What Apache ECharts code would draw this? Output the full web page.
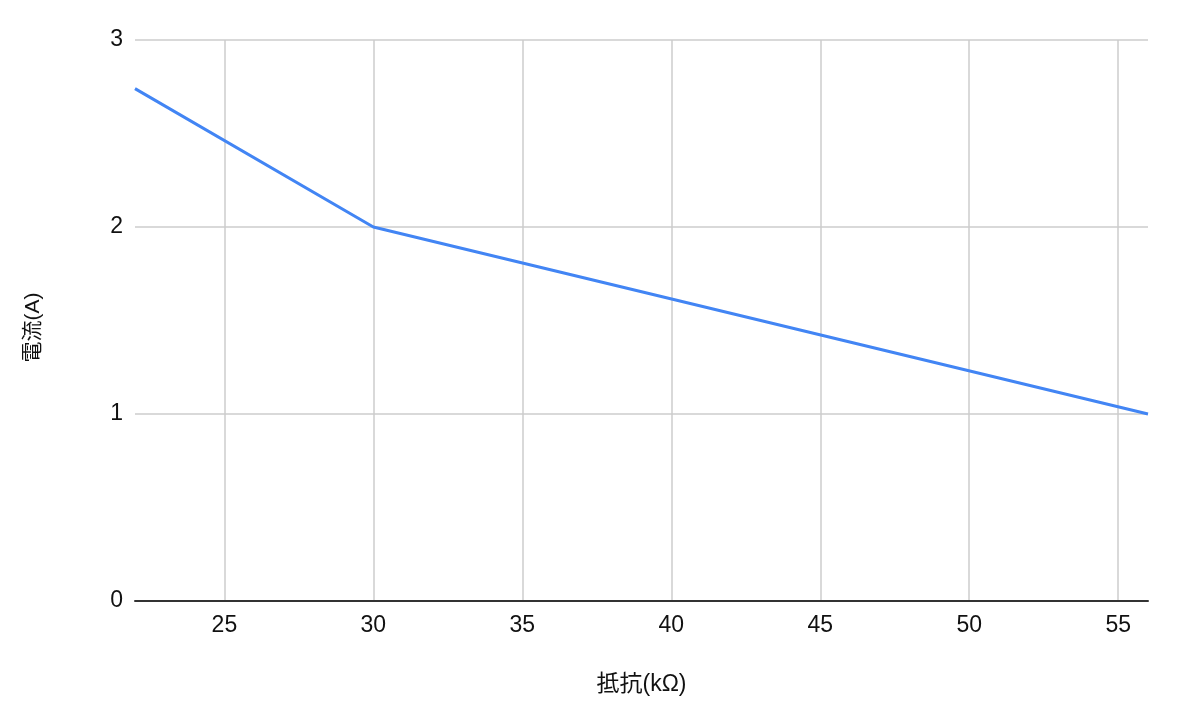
<!DOCTYPE html>
<html>
<head>
<meta charset="utf-8">
<script src="https://cdn.jsdelivr.net/npm/echarts@6/dist/echarts.min.js"></script>
<style>html,body{margin:0;padding:0;background:#fff;}#c{width:1182px;height:726px;}</style>
</head>
<body>
<div id="c"></div>
<script>
var resistance = [22, 30, 56];
var current = [2.74, 2.0, 1.0];
var xTicks = [25, 30, 35, 40, 45, 50, 55];
var yTicks = [0, 1, 2, 3];

var FONT = 'Liberation Sans, Noto Sans CJK JP, sans-serif';
var chart = echarts.init(document.getElementById('c'), null, {renderer: 'canvas'});
chart.setOption({
  animation: false,
  grid: {left: 135, right: 34, top: 40, bottom: 125},
  xAxis: {
    type: 'value', min: 22, max: 56,
    name: '抵抗(kΩ)', nameLocation: 'middle', nameGap: 72,
    nameTextStyle: {fontFamily: FONT, fontSize: 23, color: '#111'},
    axisLine: {show: true, lineStyle: {color: '#333', width: 2}},
    axisTick: {show: false, customValues: xTicks},
    axisLabel: {
      fontFamily: FONT, fontSize: 23, color: '#111', margin: 13,
      customValues: xTicks
    },
    splitLine: {show: true, lineStyle: {color: '#cccccc', width: 1.5}}
  },
  yAxis: {
    type: 'value', min: yTicks[0], max: yTicks[yTicks.length - 1], interval: 1,
    name: '電流(A)', nameLocation: 'middle', nameGap: 91, nameRotate: 90,
    nameTextStyle: {fontFamily: FONT, fontSize: 21, color: '#111', padding: [0, 14, 0, 0]},
    axisLine: {show: false},
    axisTick: {show: false},
    axisLabel: {fontFamily: FONT, fontSize: 23, color: '#111', margin: 12, padding: [7, 0, 0, 0]},
    splitLine: {show: true, lineStyle: {color: '#cccccc', width: 1.5}}
  },
  series: [{
    type: 'line',
    data: resistance.map(function (x, i) { return [x, current[i]]; }),
    symbol: 'none',
    lineStyle: {color: '#4285F4', width: 3},
    z: 5
  }]
});
</script>
</body>
</html>
